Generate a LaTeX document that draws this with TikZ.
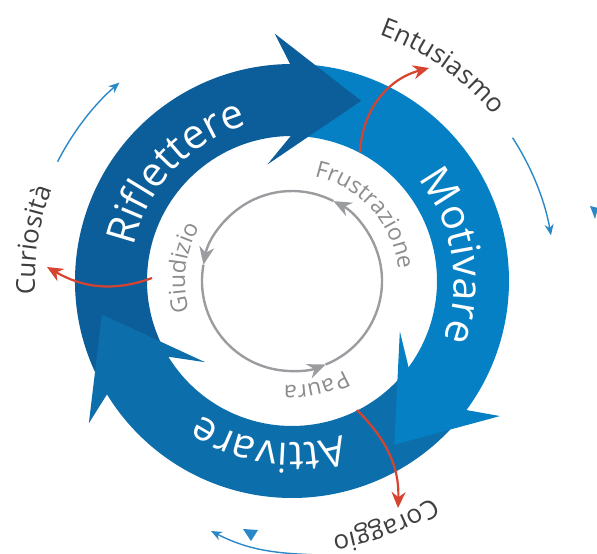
\documentclass[tikz,border=0pt]{standalone}
\usepackage{fontspec}
\setmainfont{Open Sans}
\usetikzlibrary{arrows.meta,decorations.text}
\definecolor{rifl}{HTML}{0B5E99}
\definecolor{moti}{HTML}{0580C4}
\definecolor{atti}{HTML}{0C6FAC}
\definecolor{redarr}{HTML}{D6432F}
\definecolor{thinblue}{HTML}{2A88C8}
\definecolor{ringgray}{HTML}{9B9CA0}
\definecolor{innertext}{HTML}{8C8C8C}
\definecolor{outertext}{HTML}{3F3F3F}
\newcommand{\ringband}[3]{% start angle, tip angle, colour
  \pgfmathsetmacro\rbE{#2+19.5}
  \fill[#3] (#1:217pt) arc[start angle=#1, end angle=\rbE, radius=217pt]
    -- (\rbE:145pt) arc[start angle=\rbE, end angle=#1, radius=145pt] -- cycle;
}
\newcommand{\ringhead}[2]{% tip angle, colour
  \pgfmathsetmacro\rhE{#1+21.5}
  \pgfmathsetmacro\rhO{#1+25}
  \pgfmathsetmacro\rhI{#1+33}
  \fill[#2] (\rhE:217pt) -- (\rhO:248pt) -- (#1:193pt) -- (\rhI:119pt) -- (\rhE:145pt) -- cycle;
}
\begin{document}
\begin{tikzpicture}[x=1pt,y=1pt,
  redarrow/.style={draw=redarr, line width=2.2pt, -{Stealth[length=16pt,width=14pt]}},
  thinarrow/.style={draw=thinblue, line width=1.4pt, -{Stealth[length=11pt,width=9pt]}},
  grayarrow/.style={draw=ringgray, line width=2.4pt, -{Stealth[length=18pt,width=15pt]}},
  ringtext/.style={decorate, decoration={text along path, text align=center, text color=white,
      text={|\fontsize{41}{41}\selectfont|#1}}},
  innerlabel/.style={decorate, decoration={text along path, text align=center, text color=innertext,
      text={|\fontsize{23}{23}\selectfont|#1}}},
  outerlabel/.style={decorate, decoration={text along path, text align=center, text color=outertext,
      text={|\fontsize{26}{26}\selectfont|#1}}}
]
\useasboundingbox (-292,-273) rectangle (305,281);

% ring bands
\ringband{209.5}{69}{rifl}
\ringband{88.5}{-58}{moti}
\ringband{321.5}{190}{atti}
% arrow heads
\ringhead{69}{rifl}
\ringhead{-58}{moti}
\ringhead{190}{atti}

% ring texts
\path[ringtext=Riflettere] (210:162pt) arc[start angle=210, end angle=64, radius=162pt];
\path[ringtext=Motivare] (80:162pt) arc[start angle=80, end angle=-62, radius=162pt];
\path[ringtext=Attivare] (333:162pt) arc[start angle=333, end angle=191, radius=162pt];

% inner grey cycle
\draw[grayarrow] (-68:90pt) arc[start angle=-68, end angle=62.6, radius=90pt];
\draw[grayarrow] (62.6:90pt) arc[start angle=62.6, end angle=169.6, radius=90pt];
\draw[grayarrow] (169.6:90pt) arc[start angle=169.6, end angle=292, radius=90pt];

\path[innerlabel=Frustrazione] (105:107pt) arc[start angle=105, end angle=-21, radius=107pt];
\path[innerlabel=Giudizio] (235:107pt) arc[start angle=235, end angle=111, radius=107pt];
\path[innerlabel=Paura] (325:104pt) arc[start angle=325, end angle=241, radius=104pt];

% outer labels
\path[outerlabel=Entusiasmo] (100:261pt) arc[start angle=100, end angle=10, radius=261pt];
\path[outerlabel=Curiosità] (215:257pt) arc[start angle=215, end angle=127, radius=257pt];
\path[outerlabel=Coraggio] (335:258pt) arc[start angle=335, end angle=247, radius=258pt];

% red arrows
\coordinate (eA) at (68,129);
\coordinate (eB) at (137,213);
\draw[redarrow] (eA) to[out=87, in=195] (eB);
\coordinate (cA) at (-140,3);
\coordinate (cB) at (-245,14);
\draw[redarrow] (cA) to[out=200, in=-30] (cB);
\coordinate (gA) at (65,-129);
\coordinate (gB) at (106,-227);
\draw[redarrow] (gA) to[out=-45, in=88] (gB);

% thin blue arrows
\draw[thinarrow] (153:263pt) arc[start angle=153, end angle=131, radius=263pt];
\draw[thinarrow] (33:263pt) arc[start angle=33, end angle=10, radius=263pt];
\coordinate (bA) at (28,-274);
\coordinate (bB) at (-81,-250);
\draw[thinarrow] (bA) to[out=178, in=-27] (bB);
\fill[thinblue] (-49,-248) -- (-34,-249) -- (-41,-260) -- cycle;
\fill[thinblue] (298,75) -- (306,73) -- (303,62) -- cycle;
\end{tikzpicture}
\end{document}
